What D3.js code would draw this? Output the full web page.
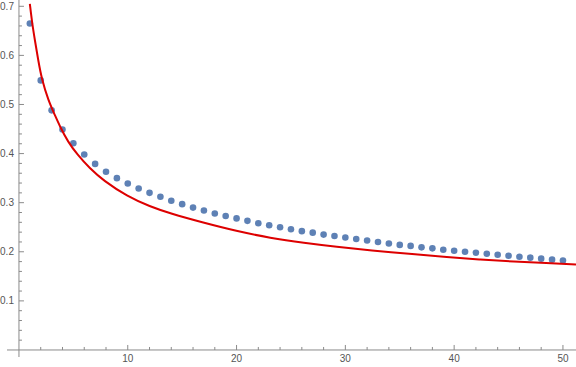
<!DOCTYPE html>
<html>
<head>
<meta charset="utf-8">
<script src="https://cdn.jsdelivr.net/npm/d3@7"></script>
<style>
  body { margin: 0; background: #fff; }
  svg { display: block; }
</style>
</head>
<body>
<svg id="chart" width="576" height="367"></svg>
<script>
// dots, n = 1..50
var dotN = d3.range(1, 51);
var dotValues = [
  0.665, 0.549, 0.488, 0.449, 0.421, 0.398, 0.379, 0.363, 0.350, 0.339,
  0.329, 0.320, 0.312, 0.304, 0.297, 0.290, 0.284, 0.278, 0.273, 0.268,
  0.263, 0.258, 0.254, 0.250, 0.246, 0.242, 0.239, 0.235, 0.232, 0.229,
  0.226, 0.223, 0.220, 0.217, 0.214, 0.212, 0.209, 0.207, 0.204, 0.202,
  0.200, 0.198, 0.196, 0.194, 0.192, 0.190, 0.188, 0.186, 0.184, 0.182
];

// red curve
var curveX = [1.0, 1.22, 1.47, 1.78, 2.09, 2.7, 3.31, 3.77, 4.5, 5.36, 6.5, 7.76,
              9.94, 12.05, 13.9, 16.8, 20.0, 23.1, 26.2, 29.2, 32.3, 36.3, 39.3,
              42.4, 45.5, 48.5, 51.2];
var curveY = [0.705, 0.664, 0.630, 0.589, 0.552, 0.508, 0.478, 0.455, 0.424, 0.398,
              0.370, 0.345, 0.313, 0.292, 0.278, 0.260, 0.242, 0.228, 0.218, 0.210,
              0.203, 0.195, 0.189, 0.184, 0.180, 0.177, 0.174];

var xTicks = [10, 20, 30, 40, 50];
var yTicks = [0.1, 0.2, 0.3, 0.4, 0.5, 0.6, 0.7];

const svg = d3.select('#chart');
const width = 576, height = 367;

const x = d3.scaleLinear().domain([-1.1, 51.2]).range([7, width]);
const y = d3.scaleLinear().domain([-0.0143, 0.7128]).range([357, 0]);

const axisColor = '#8a8a8a';
const textColor = '#555';

// x axis line
svg.append('line')
  .attr('x1', x(-1.1)).attr('x2', width)
  .attr('y1', y(0)).attr('y2', y(0))
  .attr('stroke', axisColor).attr('stroke-width', 1);

// y axis line
svg.append('line')
  .attr('x1', x(0)).attr('x2', x(0))
  .attr('y1', 0).attr('y2', y(-0.0143))
  .attr('stroke', axisColor).attr('stroke-width', 1);

// x ticks (major every 10, minor every 2), pointing up
const xMinor = d3.range(2, 52, 2);
svg.selectAll('.xtick')
  .data(xMinor)
  .enter().append('line')
  .attr('x1', d => x(d)).attr('x2', d => x(d))
  .attr('y1', y(0))
  .attr('y2', d => y(0) - (d % 10 === 0 ? 5 : 3))
  .attr('stroke', axisColor).attr('stroke-width', 1);

svg.selectAll('.xlabel')
  .data(xTicks)
  .enter().append('text')
  .attr('x', d => x(d))
  .attr('y', y(0) + 12)
  .attr('text-anchor', 'middle')
  .attr('font-family', 'Liberation Sans, Arial, sans-serif')
  .attr('font-size', 10)
  .attr('fill', textColor)
  .text(d => d);

// y ticks (major every 0.1, minor every 0.02), pointing right
const yMinor = d3.range(1, 36).map(i => i * 0.02);
svg.selectAll('.ytick')
  .data(yMinor)
  .enter().append('line')
  .attr('x1', x(0))
  .attr('x2', (d, i) => x(0) + ((i + 1) % 5 === 0 ? 5 : 3))
  .attr('y1', d => y(d)).attr('y2', d => y(d))
  .attr('stroke', axisColor).attr('stroke-width', 1);

svg.selectAll('.ylabel')
  .data(yTicks)
  .enter().append('text')
  .attr('x', x(0) - 5)
  .attr('y', d => y(d))
  .attr('dy', '0.35em')
  .attr('text-anchor', 'end')
  .attr('font-family', 'Liberation Sans, Arial, sans-serif')
  .attr('font-size', 10)
  .attr('fill', textColor)
  .text(d => d.toFixed(1));

// dots
svg.selectAll('.dot')
  .data(dotN)
  .enter().append('circle')
  .attr('cx', d => x(d))
  .attr('cy', (d, i) => y(dotValues[i]))
  .attr('r', 3.3)
  .attr('fill', '#5e81b5');

// red curve
svg.append('clipPath').attr('id', 'clip')
  .append('rect').attr('x', 0).attr('y', 0).attr('width', width).attr('height', height);

const line = d3.line()
  .x((d, i) => x(curveX[i]))
  .y(d => y(d))
  .curve(d3.curveBasis);

svg.append('path')
  .datum(curveY)
  .attr('clip-path', 'url(#clip)')
  .attr('d', line)
  .attr('fill', 'none')
  .attr('stroke', '#dd0000')
  .attr('stroke-width', 2);
</script>
</body>
</html>
